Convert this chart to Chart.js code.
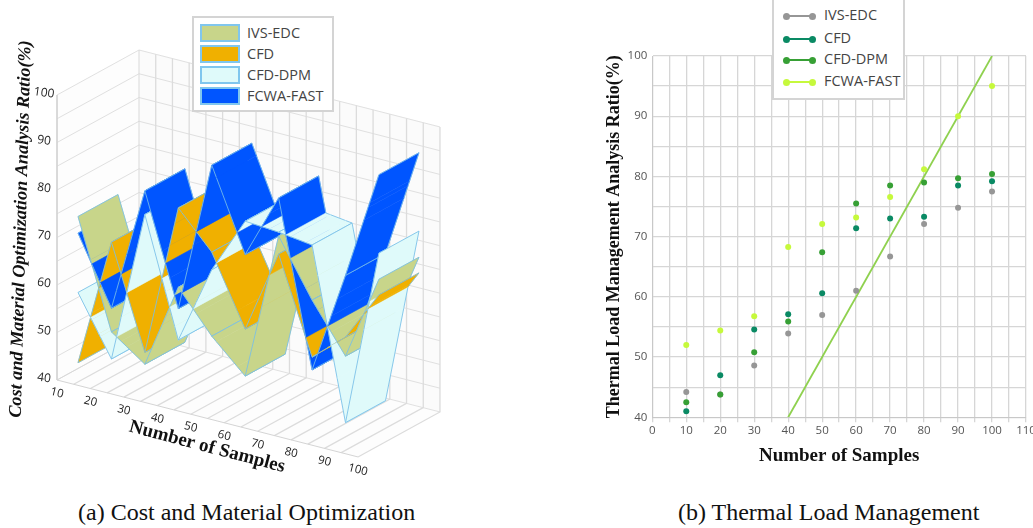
<!DOCTYPE html>
<html>
<head>
<meta charset="utf-8">
<script src="https://cdn.jsdelivr.net/npm/chart.js@4"></script>
<style>
  html, body { margin: 0; padding: 0; background: #fff; }
  #page { position: relative; width: 1033px; height: 528px; overflow: hidden; }
  canvas { position: absolute; filter: blur(0.35px); }
  #costChart { left: 0; top: 0; }
  #thermalChart { left: 600px; top: 0; }
  .caption { position: absolute; top: 499px; font: 24px "Liberation Serif", serif; color: #111; white-space: nowrap; }
  .legend { position: absolute; background: #fff; border: 2px solid #d4d4d4; box-sizing: border-box; font: 14.5px "Open Sans", sans-serif; color: #444; }
  .legend div { position: absolute; white-space: nowrap; }
  .swatch { box-sizing: border-box; border: 2px solid #80c6ee; }
  .key { height: 2px; }
  .dot { width: 7px; height: 7px; border-radius: 50%; }
</style>
</head>
<body>
<div id="page">
  <canvas id="costChart" width="480" height="490"></canvas>
  <canvas id="thermalChart" width="433" height="470"></canvas>
  <div class="legend" id="costLegend" style="left:192px;top:16px;width:142px;height:96px"></div>
  <div class="legend" id="thermalLegend" style="left:772px;top:-2px;width:133px;height:102px"></div>
  <div class="caption" style="left:78px">(a) Cost and Material Optimization</div>
  <div class="caption" style="left:678px">(b) Thermal Load Management</div>
</div>
<script>
const seriesNames = ['IVS-EDC', 'CFD', 'CFD-DPM', 'FCWA-FAST'];
const samples = [10, 20, 30, 40, 50, 60, 70, 80, 90, 100];

// (a) cost and material
const costIvs = [72, 49.5, 44.5, 62.5, 54, 47.4, 78.7, 67, 57, 75];
const costCfd = [41.2, 68.4, 47, 79.2, 71.7, 57.3, 74.9, 55, 61, 71.7];
const costDpm = [56, 43.8, 76, 51.4, 68, 80, 79.5, 78.6, 43, 80.5];
const costFast = [68.5, 54.5, 81, 58, 90, 73, 86.7, 52.3, 74, 97];
const costTicks = [40, 50, 60, 70, 80, 90, 100];

// (b) thermal load
const thermalIvs = [44.2, 43.8, 48.6, 53.9, 57, 61, 66.7, 72.1, 74.8, 77.5];
const thermalCfd = [41, 47, 54.6, 57.1, 60.6, 71.4, 73, 73.3, 78.5, 79.2];
const thermalDpm = [42.5, 43.8, 50.8, 55.9, 67.4, 75.5, 78.5, 79, 79.7, 80.4];
const thermalFast = [52, 54.4, 56.8, 68.3, 72.1, 73.2, 76.6, 81.2, 90, 95];
const trendX = [40, 100];
const trendY = [40, 100];

const ribbonColors = ['#c8d58a', '#f0b000', '#dffafa', '#0055ff'];
const dotColors = ['#969696', '#0a8a64', '#37a035', '#c6f93c'];
const edgeColor = 'rgba(120,190,232,0.85)';

// oblique projection of the 3d box: category index, value, depth 0..1
const catX = 33.44, catY = 8.55, depthX = 82, depthY = 45, valueY = 4.75;
function project(cat, value, depth) {
  return {
    x: 57 + cat * catX + depth * depthX,
    y: 380 + cat * catY - depth * depthY - (value - 40) * valueY
  };
}
// how much a line of sight falls per category towards the low samples
const viewSlope = (catY + depthY * catX / depthX) / valueY;

const painted = [];

function addShape(points, color) {
  painted.push({
    data: points.concat([points[0]]), showLine: true, fill: 'shape', backgroundColor: color,
    borderColor: color, borderWidth: 0.5, pointRadius: 0, tension: 0
  });
}

function addLine(points, color, width) {
  painted.push({
    data: points, showLine: true, fill: false, borderColor: color,
    borderWidth: width, pointRadius: 0, tension: 0
  });
}

// walls and floor
addShape([project(0, 40, 1), project(9, 40, 1), project(9, 100, 1), project(0, 100, 1)], '#fbfbfb');
addShape([project(0, 40, 0), project(0, 40, 1), project(0, 100, 1), project(0, 100, 0)], '#fdfdfd');
addShape([project(0, 40, 0), project(9, 40, 0), project(9, 40, 1), project(0, 40, 1)], '#fdfdfd');
for (let v = 40; v <= 100; v += 5) {
  addLine([project(0, v, 0), project(0, v, 1), project(9, v, 1)], '#e0e0e0', 1);
}
for (let c = 0; c <= 9; c += 0.5) {
  addLine([project(c, 40, 0), project(c, 40, 1), project(c, 100, 1)], c === 0 ? '#d8d8d8' : '#dcdcdc', c === 0 ? 1 : 1.3);
}
addLine([project(0, 100, 0), project(0, 40, 0), project(9, 40, 0)], '#d4d4d4', 1);

// ribbons: cut every interval where two series cross, then paint left to right
// (the camera sits on the high sample side)
const costSeries = [costIvs, costCfd, costDpm, costFast];
const nearDepth = 0.256, farDepth = 0.744;

function valueAt(series, seg, t) {
  return series[seg] + (series[seg + 1] - series[seg]) * t;
}

function cutsFor(seg) {
  const cuts = [0, 1];
  for (let a = 0; a < costSeries.length; a++) {
    for (let b = a + 1; b < costSeries.length; b++) {
      const d0 = costSeries[a][seg] - costSeries[b][seg];
      const d1 = costSeries[a][seg + 1] - costSeries[b][seg + 1];
      if (d0 * d1 < 0) cuts.push(d0 / (d0 - d1));
    }
  }
  return cuts.sort((p, q) => p - q);
}

// is ribbon a nearer than ribbon b along a shared line of sight, inside this slice
function inFront(a, b, seg, t0, t1) {
  const sight = (s, t) => valueAt(s, seg, t) - viewSlope * (seg + t);
  const a0 = sight(a, t0), a1 = sight(a, t1), b0 = sight(b, t0), b1 = sight(b, t1);
  const lo = Math.max(Math.min(a0, a1), Math.min(b0, b1));
  const hi = Math.min(Math.max(a0, a1), Math.max(b0, b1));
  if (hi - lo < 1e-6) return false;
  const w = (lo + hi) / 2;
  return (w - a0) / (a1 - a0) > (w - b0) / (b1 - b0);
}

function paintOrder(seg, t0, t1) {
  const left = costSeries.map((s, i) => i);
  const order = [];
  while (left.length) {
    let pick = left.find(a => !left.some(b => b !== a && inFront(costSeries[a], costSeries[b], seg, t0, t1)));
    if (pick === undefined) pick = left[0];
    order.push(pick);
    left.splice(left.indexOf(pick), 1);
  }
  return order;
}

const gap = { x: null, y: null };
for (let seg = 0; seg < samples.length - 1; seg++) {
  const cuts = cutsFor(seg);
  for (let k = 0; k < cuts.length - 1; k++) {
    const t0 = cuts[k], t1 = cuts[k + 1];
    paintOrder(seg, t0, t1).forEach(i => {
      const s = costSeries[i];
      const v0 = valueAt(s, seg, t0), v1 = valueAt(s, seg, t1);
      const n0 = project(seg + t0, v0, nearDepth), n1 = project(seg + t1, v1, nearDepth);
      const f0 = project(seg + t0, v0, farDepth), f1 = project(seg + t1, v1, farDepth);
      addShape([n0, n1, f1, f0], ribbonColors[i]);
      const outline = [n0, n1, gap, f0, f1];
      if (t0 === 0) outline.push(gap, n0, f0);
      if (t1 === 1) outline.push(gap, n1, f1);
      addLine(outline, edgeColor, 1);
    });
  }
}

const boxText = {
  id: 'boxText',
  afterDraw(chart) {
    const ctx = chart.ctx;
    const put = (text, x, y, angle, font, color) => {
      ctx.save();
      ctx.translate(x, y);
      ctx.rotate(angle * Math.PI / 180);
      ctx.font = font;
      ctx.fillStyle = color;
      ctx.textAlign = 'center';
      ctx.textBaseline = 'middle';
      ctx.fillText(text, 0, 0);
      ctx.restore();
    };
    costTicks.forEach(v => {
      const p = project(0, v, 0);
      put(String(v), p.x - 13, p.y - 2, 8, '12px "Open Sans", sans-serif', '#222');
    });
    samples.forEach((s, i) => {
      const p = project(i, 40, 0);
      put(String(s), p.x, p.y + 13, 14, '11.5px "Open Sans", sans-serif', '#222');
    });
    put('Cost and Material Optimization Analysis Ratio(%)', 21, 229, -88.5, 'italic bold 18.2px "Liberation Serif", serif', '#111');
    put('Number of Samples', 207, 447, 14.8, 'bold 19px "Liberation Serif", serif', '#111');
  }
};

new Chart(document.getElementById('costChart'), {
  type: 'scatter',
  data: { datasets: painted.slice().reverse() },
  plugins: [boxText],
  options: {
    responsive: false,
    animation: false,
    layout: { padding: 0 },
    plugins: { legend: { display: false }, tooltip: { enabled: false } },
    scales: {
      x: { type: 'linear', display: false, min: 0, max: 480 },
      y: { type: 'linear', display: false, min: 0, max: 490, reverse: true }
    }
  }
});

const thermalSeries = [thermalIvs, thermalCfd, thermalDpm, thermalFast];
const thermalSets = thermalSeries.map((vals, i) => ({
  label: seriesNames[i],
  data: vals.map((v, j) => ({ x: samples[j], y: v })),
  showLine: false,
  pointRadius: 3,
  pointBackgroundColor: dotColors[i],
  pointBorderWidth: 0
})).reverse();
thermalSets.push({
  label: 'trend',
  data: trendX.map((x, j) => ({ x: x, y: trendY[j] })),
  showLine: true,
  borderColor: '#8fd14f',
  borderWidth: 1.8,
  pointRadius: 0
});

const everyTen = v => (v % 10 === 0 ? v : '');

new Chart(document.getElementById('thermalChart'), {
  type: 'scatter',
  data: { datasets: thermalSets },
  options: {
    responsive: false,
    animation: false,
    layout: { padding: { top: 56, right: 7, left: 0, bottom: 0 } },
    plugins: { legend: { display: false }, tooltip: { enabled: false } },
    scales: {
      x: {
        min: 0, max: 110,
        afterFit: s => { s.height = 52.7; s.paddingRight = 0; s.paddingLeft = 0; },
        grid: { color: '#d6d6d6', lineWidth: 1.3, drawTicks: true, tickLength: 5 },
        border: { color: '#c8c8c8' },
        ticks: { stepSize: 5, autoSkip: false, maxRotation: 0, padding: 2, callback: everyTen, color: '#555', font: { family: 'Open Sans', size: 11.5 } },
        title: { display: true, text: 'Number of Samples', color: '#111', padding: { top: 0, bottom: 3 }, font: { family: 'Liberation Serif', size: 19, weight: 'bold' } }
      },
      y: {
        min: 40, max: 100,
        afterFit: s => { s.width = 52.3; },
        grid: { color: '#d6d6d6', lineWidth: 1.3, drawTicks: false },
        border: { color: '#c8c8c8' },
        ticks: { stepSize: 5, autoSkip: false, padding: 5, callback: everyTen, color: '#555', font: { family: 'Open Sans', size: 11.5 } },
        title: { display: true, text: 'Thermal Load Management Analysis Ratio(%)', color: '#111', padding: { top: 4, bottom: 0 }, font: { family: 'Liberation Serif', size: 18, weight: 'bold' } }
      }
    }
  }
});

// legends
const costLegend = document.getElementById('costLegend');
const thermalLegend = document.getElementById('thermalLegend');
const costRows = [6, 27, 48, 69];
const thermalRows = [16, 39, 60, 82];

function place(parent, cls, css, text) {
  const d = document.createElement('div');
  if (cls) d.className = cls;
  d.style.cssText = css;
  if (text) d.textContent = text;
  parent.appendChild(d);
}

seriesNames.forEach((name, i) => {
  place(costLegend, 'swatch', 'left:6px;top:' + costRows[i] + 'px;width:40px;height:18px;background:' + ribbonColors[i]);
  place(costLegend, '', 'left:53px;top:' + (costRows[i] - 1) + 'px', name);
  const y = thermalRows[i];
  place(thermalLegend, 'key', 'left:13px;top:' + (y - 1) + 'px;width:28px;background:' + dotColors[i]);
  place(thermalLegend, 'dot', 'left:9px;top:' + (y - 3.5) + 'px;background:' + dotColors[i]);
  place(thermalLegend, 'dot', 'left:35px;top:' + (y - 3.5) + 'px;background:' + dotColors[i]);
  place(thermalLegend, '', 'left:50px;top:' + (y - 11) + 'px', name);
});
</script>
</body>
</html>
